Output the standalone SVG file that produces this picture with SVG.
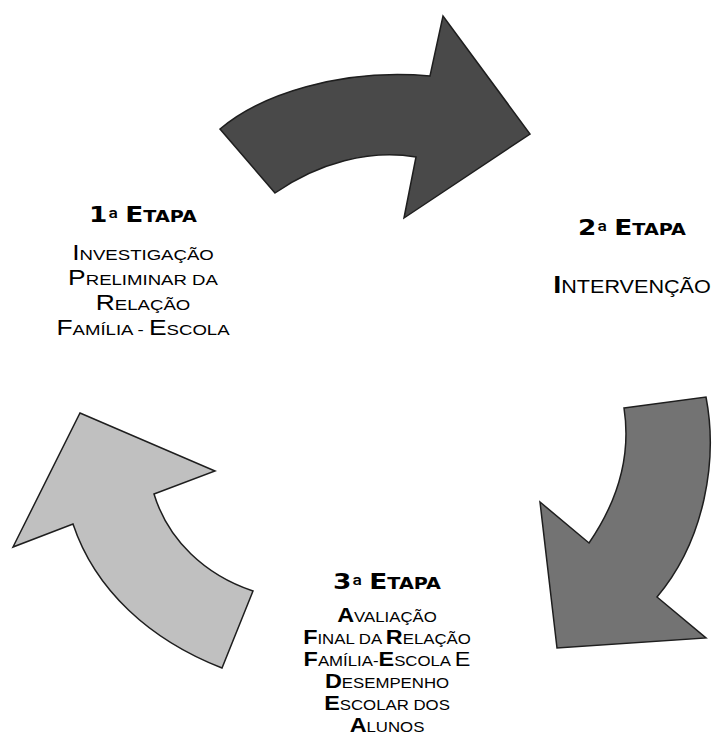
<svg xmlns="http://www.w3.org/2000/svg" width="715" height="747" viewBox="0 0 715 747">
<style>
.arrow{stroke:#1e1e1e;stroke-width:1.5;stroke-linejoin:miter}
.h{font-family:"DejaVu Sans","Verdana",sans-serif;font-weight:bold;font-size:22px;fill:#000;text-anchor:middle}
.h .s{font-size:16px}
.h .o{font-family:Roboto,"Open Sans",sans-serif;font-size:21px;font-weight:bold}
.b{font-family:"Liberation Sans",Arial,sans-serif;fill:#000;text-anchor:middle}
.b1{font-size:22px}
.b1 .s{font-size:15.5px}
.b2{font-size:24px}
.b2 .s{font-size:18px}
.b3{font-size:19.5px}
.b3 .s{font-size:14px}
.bd{font-weight:bold}
</style>
<rect width="715" height="747" fill="#fff"/>
<g id="connectors">
<path id="arrow-1-2" class="arrow" fill="#494949" d="M220,129 C260,95 340,68 430,76 L443,16 L530,134 L404,218 L416,157 C370,149 318,163 275,193 Z"/>
<path id="arrow-2-3" class="arrow" fill="#737373" d="M624,408 L706,397 C718,460 705,540 657,597 L706,638 L557,648 L540,502 L589,543 C615,505 632,460 624,408 Z"/>
<path id="arrow-3-1" class="arrow" fill="#c0c0c0" d="M80,413 L215,471 L154,494 C168,540 205,575 253,591 L222,668 C150,640 95,590 73,524 L13,547 Z"/>
</g>
<g id="etapa1" transform="translate(143 0) scale(1.2 1)">
<text class="h" x="0" y="222">1<tspan class="o" baseline-shift="-3">ª</tspan><tspan class="s"> </tspan>E<tspan class="s">TAPA</tspan></text>
<text class="b b1" x="0" y="260">I<tspan class="s">NVESTIGAÇÃO</tspan></text>
<text class="b b1" x="0" y="285">P<tspan class="s">RELIMINAR DA</tspan></text>
<text class="b b1" x="0" y="310">R<tspan class="s">ELAÇÃO</tspan></text>
<text class="b b1" x="0" y="335">F<tspan class="s">AMÍLIA - </tspan>E<tspan class="s">SCOLA</tspan></text>
</g>
<g id="etapa2" transform="translate(632 0) scale(1.2 1)">
<text class="h" x="0" y="235">2<tspan class="o" baseline-shift="-3">ª</tspan><tspan class="s"> </tspan>E<tspan class="s">TAPA</tspan></text>
<text class="b b2" x="0" y="293"><tspan class="bd">I</tspan><tspan class="s">NTERVENÇÃO</tspan></text>
</g>
<g id="etapa3" transform="translate(387 0) scale(1.2 1)">
<text class="h" x="0" y="589">3<tspan class="o" baseline-shift="-3">ª</tspan><tspan class="s"> </tspan>E<tspan class="s">TAPA</tspan></text>
<text class="b b3" x="0" y="622"><tspan class="bd">A</tspan><tspan class="s">VALIAÇÃO</tspan></text>
<text class="b b3" x="0" y="644"><tspan class="bd">F</tspan><tspan class="s">INAL DA </tspan><tspan class="bd">R</tspan><tspan class="s">ELAÇÃO</tspan></text>
<text class="b b3" x="0" y="666"><tspan class="bd">F</tspan><tspan class="s">AMÍLIA-</tspan><tspan class="bd">E</tspan><tspan class="s">SCOLA </tspan>E</text>
<text class="b b3" x="0" y="688"><tspan class="bd">D</tspan><tspan class="s">ESEMPENHO</tspan></text>
<text class="b b3" x="0" y="710"><tspan class="bd">E</tspan><tspan class="s">SCOLAR DOS</tspan></text>
<text class="b b3" x="0" y="732"><tspan class="bd">A</tspan><tspan class="s">LUNOS</tspan></text>
</g>
</svg>
